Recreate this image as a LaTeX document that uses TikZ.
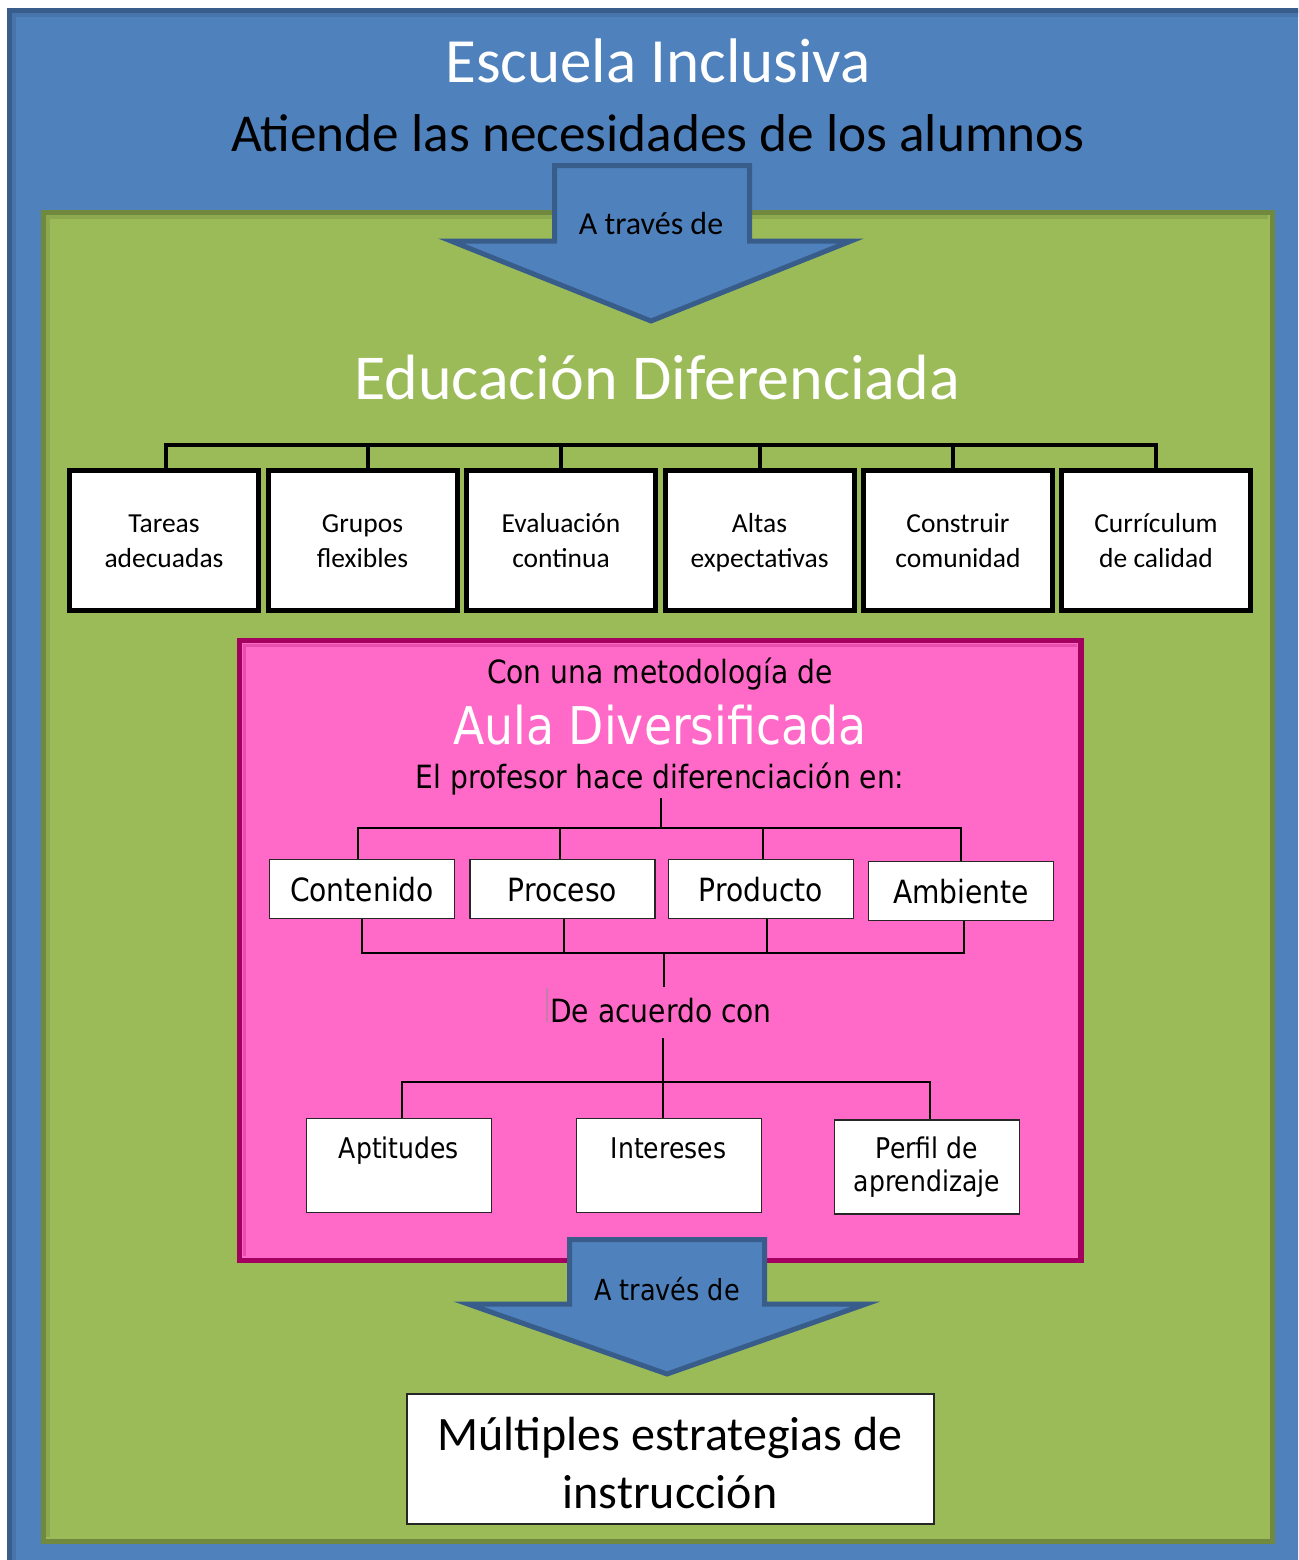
\documentclass[tikz,border=0pt]{standalone}
\usepackage{fontspec}
\setmainfont{Carlito}
\newfontfamily\tah[FakeStretch=0.88]{DejaVu Sans}
\definecolor{bluefill}{HTML}{4F81BD}
\definecolor{blueline}{HTML}{385D8A}
\definecolor{greenfill}{HTML}{9BBB59}
\definecolor{greenline}{HTML}{71893F}
\definecolor{pinkfill}{HTML}{FF69C8}
\definecolor{pinkline}{HTML}{A3005F}
\definecolor{cursorc}{HTML}{C47FA8}
\begin{document}
\begin{tikzpicture}[x=1pt,y=-1pt,
  txt/.style={anchor=base, inner sep=0pt},
  edbox/.style={draw=black, line width=5pt, fill=white, minimum width=189pt, minimum height=140pt, inner sep=0pt},
  edtxt/.style={anchor=base, inner sep=0pt, font=\fontsize{27.5}{27.5}\selectfont},
  pbox/.style={draw=black!85, line width=1.6pt, fill=white, minimum width=185pt, minimum height=59pt,
    inner sep=0pt, font=\tah\fontsize{32}{38}\selectfont, text height=24pt, text depth=0pt},
  qbox/.style={draw=black!85, line width=1.6pt, fill=white, minimum width=185pt, minimum height=94pt, inner sep=0pt},
  qtxt/.style={anchor=base, inner sep=0pt, font=\tah\fontsize{28.5}{28.5}\selectfont},
  thick4/.style={draw=black, line width=4pt},
  thin2/.style={draw=black, line width=2pt},
  bigarrow/.style={draw=blueline, line width=5pt, fill=bluefill, line join=miter}
]
\useasboundingbox (0,0) rectangle (1298,1560);
\clip (0,0) rectangle (1298,1560);
\fill[white] (0,0) rectangle (1298,1560);
% outer blue frame
\draw[blueline, line width=5pt, fill=bluefill] (9.5,10.5) rectangle (1320,1580);
\draw[blueline, line width=4pt, opacity=0.35] (14,1580) -- (14,15) -- (1320,15);
\node[txt, text=white, font=\fontsize{63}{63}\selectfont] (t1) at (658,83) {Escuela Inclusiva};
\node[txt, text=black, font=\fontsize{53.3}{53.3}\selectfont] (t2) at (658,151) {Atiende las necesidades de los alumnos};
% green frame
\draw[greenline, line width=5pt, fill=greenfill] (43.5,212.5) rectangle (1272.5,1541.5);
\draw[greenline, line width=4pt, opacity=0.35] (48,1537) -- (48,217) -- (1268,217);
% arrow 1
\draw[bigarrow] (554.5,165.5) -- (749.5,165.5) -- (749.5,241) -- (851,241) -- (651,321) -- (451,241) -- (554.5,241) -- cycle;
\node[txt, font=\fontsize{32}{32}\selectfont] (a1t) at (651,234) {A través de};
\node[txt, text=white, font=\fontsize{64}{64}\selectfont] (ed) at (657,399) {Educación Diferenciada};
% level 1 boxes
\node[edbox] (b1) at (164,540.5) {};
\node[edbox] (b2) at (362.5,540.5) {};
\node[edbox] (b3) at (561,540.5) {};
\node[edbox] (b4) at (759.5,540.5) {};
\node[edbox] (b5) at (958,540.5) {};
\node[edbox] (b6) at (1156,540.5) {};
\node[edtxt] (b1a) at (164,532) {Tareas};
\node[edtxt] (b1b) at (164,567) {adecuadas};
\node[edtxt] (b2a) at (362.5,532) {Grupos};
\node[edtxt] (b2b) at (362.5,567) {flexibles};
\node[edtxt] (b3a) at (561,532) {Evaluación};
\node[edtxt] (b3b) at (561,567) {continua};
\node[edtxt] (b4a) at (759.5,532) {Altas};
\node[edtxt] (b4b) at (759.5,567) {expectativas};
\node[edtxt] (b5a) at (958,532) {Construir};
\node[edtxt] (b5b) at (958,567) {comunidad};
\node[edtxt] (b6a) at (1156,532) {Currículum};
\node[edtxt] (b6b) at (1156,567) {de calidad};
\coordinate (top1) at (0,445);
\draw[thick4, line cap=rect] (b1.north -| 166,0) |- (top1 -| b6.north) -- (b6.north);
\draw[thick4] ([xshift=5.5pt]b2.north) -- ([xshift=5.5pt]b2.north |- top1);
\draw[thick4] (b3.north) -- (b3.north |- top1);
\draw[thick4] (b4.north) -- (b4.north |- top1);
\draw[thick4] ([xshift=-5pt]b5.north) -- ([xshift=-5pt]b5.north |- top1);
% pink box
\draw[pinkline, line width=5.5pt, fill=pinkfill] (239.5,640.5) rectangle (1081,1260.5);
\draw[pinkline, line width=3pt, opacity=0.25] (244,1256) -- (244,645) -- (1077,645);
\node[txt, font=\tah\fontsize{32}{32}\selectfont] (p1) at (660,683) {Con una metodología de};
\node[txt, text=white, font=\tah\fontsize{52}{52}\selectfont] (p2) at (660,744) {Aula Diversificada};
\node[txt, font=\tah\fontsize{32}{32}\selectfont] (p3) at (660,788) {El profesor hace diferenciación en:};
% level 2 boxes
\node[pbox] (c1) at (362,889) {Contenido};
\node[pbox] (c2) at (562.5,889) {Proceso};
\node[pbox] (c3) at (761,889) {Producto};
\node[pbox] (c4) at (961,891) {Ambiente};
\coordinate (j1) at (661,828);
\coordinate (j0) at (661,798);
\draw[thin2] (j0) -- (j1);
\draw[thin2] (c1.north -| 358,0) |- (j1) -| (c4.north);
\draw[thin2] ([xshift=-2.5pt]c2.north) -- ([xshift=-2.5pt]c2.north |- j1);
\draw[thin2] ([xshift=2pt]c3.north) -- ([xshift=2pt]c3.north |- j1);
\coordinate (j2) at (664,953);
\draw[thin2] (c1.south) |- (j2) -| ([xshift=3pt]c4.south);
\draw[thin2] ([xshift=1.5pt]c2.south) -- ([xshift=1.5pt]c2.south |- j2);
\draw[thin2] ([xshift=6pt]c3.south) -- ([xshift=6pt]c3.south |- j2);
\coordinate (j2b) at (664,987);
\draw[thin2] (j2) -- (j2b);
\node[txt, font=\tah\fontsize{32}{32}\selectfont] (dac) at (661,1022) {De acuerdo con};
\draw[cursorc, line width=1.2pt] ([xshift=-3pt,yshift=34pt]dac.base west) -- ([xshift=-3pt]dac.base west);
% level 3 boxes
\node[qbox] (d1) at (399,1165.5) {};
\node[qbox] (d2) at (669,1165.5) {};
\node[qbox] (d3) at (927,1167) {};
\node[qtxt] (d1t) at (399,1158) {Aptitudes};
\node[qtxt] (d2t) at (668.5,1158) {Intereses};
\node[qtxt] (d3t) at (927,1158) {Perfil de};
\node[qtxt] (d3u) at (927,1191) {aprendizaje};
\coordinate (j3a) at (663,1038);
\coordinate (j3) at (663,1082);
\draw[thin2] (j3a) -- (j3 |- d2.north);
\draw[thin2] ([xshift=3pt]d1.north) |- (j3) -| ([xshift=3pt]d3.north);
% arrow 2
\draw[bigarrow] (569.5,1239.5) -- (764.5,1239.5) -- (764.5,1304) -- (866,1304) -- (667,1374) -- (468,1304) -- (569.5,1304) -- cycle;
\node[txt, font=\tah\fontsize{29}{29}\selectfont] (a2t) at (667,1300) {A través de};
% final box
\node[draw=black!85, line width=2pt, fill=white, minimum width=527pt, minimum height=130pt, inner sep=0pt] (fb) at (670.5,1459) {};
\node[txt, font=\fontsize{48}{48}\selectfont] (f1) at (670,1450) {Múltiples estrategias de};
\node[txt, font=\fontsize{48}{48}\selectfont] (f2) at (670,1508) {instrucción};
\end{tikzpicture}
\end{document}
